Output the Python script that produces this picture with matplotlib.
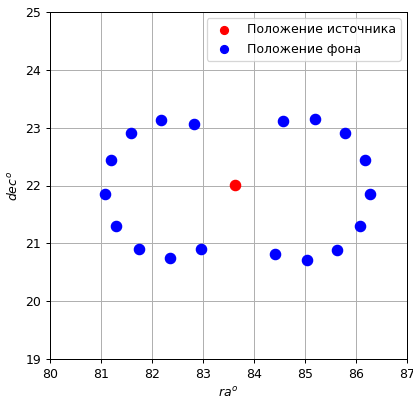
import numpy as np
import matplotlib
matplotlib.use("Agg")
import matplotlib.pyplot as plt

# source position
src_ra = [83.63]
src_dec = [22.01]

# background positions
bkg_ra = [81.08, 81.20, 81.59, 82.18, 82.82, 81.29, 81.75, 82.35, 82.96,
          84.57, 85.20, 85.78, 86.18, 86.27, 86.08, 85.63, 85.04, 84.41]
bkg_dec = [21.85, 22.44, 22.91, 23.13, 23.06, 21.30, 20.90, 20.75, 20.90,
           23.12, 23.15, 22.91, 22.44, 21.86, 21.30, 20.88, 20.72, 20.82]

dpi = 90
fig = plt.figure(figsize=(413 / dpi, 399 / dpi), dpi=dpi)
ax = fig.add_axes([50 / 413, 40 / 399, 357 / 413, 347 / 399])

ax.scatter(src_ra, src_dec, color="red", s=68, label="Положение источника", zorder=3)
ax.scatter(bkg_ra, bkg_dec, color="blue", s=68, label="Положение фона", zorder=3)

ax.set_xlim(80, 87)
ax.set_ylim(19, 25)
ax.set_xlabel("$ra^o$")
ax.set_ylabel("$dec^o$")
ax.grid(True)
ax.legend(loc="upper right", markerscale=0.77)

fig.savefig("out.png", dpi=dpi)
